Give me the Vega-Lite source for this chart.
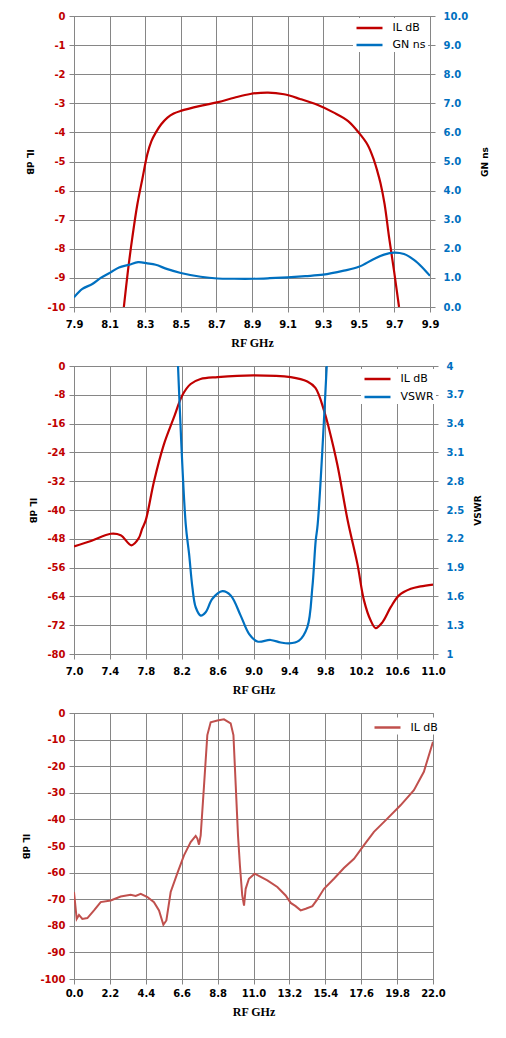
{
  "$schema": "https://vega.github.io/schema/vega-lite/v6.json",
  "padding": {"left": 19, "top": 10, "right": 0, "bottom": 0},
  "background": "white",
  "spacing": 59,
  "bounds": "flush",
  "resolve": {"scale": {"color": "independent"}, "legend": {"color": "independent"}},
  "config": {
    "font": "DejaVu Sans",
    "view": {"stroke": "#868686"},
    "axis": {
      "gridColor": "#868686", "gridOpacity": 1, "gridWidth": 1,
      "domainColor": "#868686", "domainWidth": 1,
      "tickColor": "#868686", "tickSize": 5, "tickWidth": 1,
      "labelFont": "DejaVu Sans", "labelFontSize": 10, "labelFontWeight": "bold",
      "labelFlush": false, "labelOverlap": false,
      "titleColor": "#000000", "titleFont": "DejaVu Sans", "titleFontWeight": "bold", "titleFontSize": 9
    },
    "axisX": {
      "labelColor": "#000000", "labelPadding": 7,
      "titleFont": "Liberation Serif", "titleFontSize": 12, "titlePadding": 8
    },
    "legend": {
      "orient": "none", "fillColor": "white", "padding": 2,
      "labelFont": "DejaVu Sans", "labelFontSize": 11, "labelColor": "#000000",
      "symbolType": "M-2,0H2", "symbolSize": 169, "symbolStrokeWidth": 2.5,
      "symbolOffset": 6.5, "labelOffset": 15, "rowPadding": 4
    }
  },
  "vconcat": [
    {
      "width": 356,
      "height": 291,
      "data": {"values": [
        {"s": "IL dB", "f": 8.18, "v": -10},
        {"s": "IL dB", "f": 8.203, "v": -8.76},
        {"s": "IL dB", "f": 8.228, "v": -7.6},
        {"s": "IL dB", "f": 8.256, "v": -6.47},
        {"s": "IL dB", "f": 8.284, "v": -5.6},
        {"s": "IL dB", "f": 8.312, "v": -4.75},
        {"s": "IL dB", "f": 8.335, "v": -4.3},
        {"s": "IL dB", "f": 8.36, "v": -4.0},
        {"s": "IL dB", "f": 8.39, "v": -3.72},
        {"s": "IL dB", "f": 8.425, "v": -3.49},
        {"s": "IL dB", "f": 8.46, "v": -3.35},
        {"s": "IL dB", "f": 8.5, "v": -3.26},
        {"s": "IL dB", "f": 8.61, "v": -3.09},
        {"s": "IL dB", "f": 8.71, "v": -2.96},
        {"s": "IL dB", "f": 8.8, "v": -2.81},
        {"s": "IL dB", "f": 8.89, "v": -2.68},
        {"s": "IL dB", "f": 8.99, "v": -2.63},
        {"s": "IL dB", "f": 9.08, "v": -2.69},
        {"s": "IL dB", "f": 9.17, "v": -2.85},
        {"s": "IL dB", "f": 9.27, "v": -3.06},
        {"s": "IL dB", "f": 9.36, "v": -3.32},
        {"s": "IL dB", "f": 9.44, "v": -3.61},
        {"s": "IL dB", "f": 9.5, "v": -4.01},
        {"s": "IL dB", "f": 9.55, "v": -4.43},
        {"s": "IL dB", "f": 9.585, "v": -4.95},
        {"s": "IL dB", "f": 9.604, "v": -5.33},
        {"s": "IL dB", "f": 9.622, "v": -5.75},
        {"s": "IL dB", "f": 9.645, "v": -6.47},
        {"s": "IL dB", "f": 9.67, "v": -7.6},
        {"s": "IL dB", "f": 9.698, "v": -8.76},
        {"s": "IL dB", "f": 9.726, "v": -10},
        {"s": "GN ns", "f": 7.9, "v": 0.33},
        {"s": "GN ns", "f": 7.947, "v": 0.62},
        {"s": "GN ns", "f": 8.003, "v": 0.79},
        {"s": "GN ns", "f": 8.05, "v": 1.0},
        {"s": "GN ns", "f": 8.106, "v": 1.19},
        {"s": "GN ns", "f": 8.153, "v": 1.36},
        {"s": "GN ns", "f": 8.209, "v": 1.45},
        {"s": "GN ns", "f": 8.26, "v": 1.54},
        {"s": "GN ns", "f": 8.312, "v": 1.5},
        {"s": "GN ns", "f": 8.359, "v": 1.45},
        {"s": "GN ns", "f": 8.425, "v": 1.3},
        {"s": "GN ns", "f": 8.5, "v": 1.17},
        {"s": "GN ns", "f": 8.612, "v": 1.04},
        {"s": "GN ns", "f": 8.706, "v": 0.98},
        {"s": "GN ns", "f": 8.8, "v": 0.97},
        {"s": "GN ns", "f": 8.906, "v": 0.97},
        {"s": "GN ns", "f": 9.0, "v": 0.99},
        {"s": "GN ns", "f": 9.1, "v": 1.02},
        {"s": "GN ns", "f": 9.2, "v": 1.06},
        {"s": "GN ns", "f": 9.3, "v": 1.11},
        {"s": "GN ns", "f": 9.416, "v": 1.25},
        {"s": "GN ns", "f": 9.5, "v": 1.38},
        {"s": "GN ns", "f": 9.585, "v": 1.65},
        {"s": "GN ns", "f": 9.642, "v": 1.8},
        {"s": "GN ns", "f": 9.698, "v": 1.87},
        {"s": "GN ns", "f": 9.754, "v": 1.82},
        {"s": "GN ns", "f": 9.81, "v": 1.62},
        {"s": "GN ns", "f": 9.857, "v": 1.36},
        {"s": "GN ns", "f": 9.9, "v": 1.07}
      ]},
      "encoding": {
        "x": {
          "field": "f", "type": "quantitative",
          "scale": {"domain": [7.9, 9.9], "nice": false, "zero": false},
          "axis": {"values": [7.9, 8.1, 8.3, 8.5, 8.7, 8.9, 9.1, 9.3, 9.5, 9.7, 9.9], "format": ".1f", "title": "RF GHz", "grid": true}
        },
        "color": {
          "field": "s", "type": "nominal",
          "scale": {"domain": ["IL dB", "GN ns"], "range": ["#C00000", "#0070C0"]},
          "legend": {"title": null, "legendX": 279, "legendY": 2}
        }
      },
      "layer": [
        {
          "transform": [{"filter": "datum.s == 'IL dB'"}],
          "mark": {"type": "line", "strokeWidth": 2.2, "interpolate": "catmull-rom", "clip": true},
          "encoding": {
            "y": {
              "field": "v", "type": "quantitative",
              "scale": {"domain": [-10, 0], "nice": false},
              "axis": {"values": [-10, -9, -8, -7, -6, -5, -4, -3, -2, -1, 0], "labelExpr": "toString(datum.value)", "labelColor": "#C00000", "labelPadding": 4, "grid": true, "title": "IL dB", "titleAngle": 90, "titleBaseline": "middle", "titleX": -44.5}
            }
          }
        },
        {
          "transform": [{"filter": "datum.s == 'GN ns'"}],
          "mark": {"type": "line", "strokeWidth": 2.2, "interpolate": "catmull-rom", "clip": true},
          "encoding": {
            "y": {
              "field": "v", "type": "quantitative",
              "scale": {"domain": [0, 10], "nice": false},
              "axis": {"orient": "right", "values": [0, 1, 2, 3, 4, 5, 6, 7, 8, 9, 10], "format": ".1f", "labelColor": "#0070C0", "labelPadding": 8, "grid": false, "title": "GN ns", "titleAngle": 270, "titleBaseline": "middle", "titleX": 54}
            }
          }
        }
      ],
      "resolve": {"scale": {"y": "independent"}}
    },
    {
      "width": 359,
      "height": 288,
      "data": {"values": [
        {"s": "IL dB", "f": 7.0, "v": -50.1},
        {"s": "IL dB", "f": 7.19, "v": -48.6},
        {"s": "IL dB", "f": 7.41, "v": -46.6},
        {"s": "IL dB", "f": 7.52, "v": -47.0},
        {"s": "IL dB", "f": 7.64, "v": -49.8},
        {"s": "IL dB", "f": 7.72, "v": -47.9},
        {"s": "IL dB", "f": 7.76, "v": -45.2},
        {"s": "IL dB", "f": 7.8, "v": -42.8},
        {"s": "IL dB", "f": 7.89, "v": -32.2},
        {"s": "IL dB", "f": 8.0, "v": -21.9},
        {"s": "IL dB", "f": 8.11, "v": -14.5},
        {"s": "IL dB", "f": 8.21, "v": -8.0},
        {"s": "IL dB", "f": 8.3, "v": -5.0},
        {"s": "IL dB", "f": 8.41, "v": -3.6},
        {"s": "IL dB", "f": 8.6, "v": -3.07},
        {"s": "IL dB", "f": 9.0, "v": -2.6},
        {"s": "IL dB", "f": 9.415, "v": -3.07},
        {"s": "IL dB", "f": 9.6, "v": -4.3},
        {"s": "IL dB", "f": 9.69, "v": -6.1},
        {"s": "IL dB", "f": 9.79, "v": -12.7},
        {"s": "IL dB", "f": 9.84, "v": -17.3},
        {"s": "IL dB", "f": 9.935, "v": -27.5},
        {"s": "IL dB", "f": 10.05, "v": -43.0},
        {"s": "IL dB", "f": 10.157, "v": -54.9},
        {"s": "IL dB", "f": 10.231, "v": -65.1},
        {"s": "IL dB", "f": 10.306, "v": -70.7},
        {"s": "IL dB", "f": 10.361, "v": -72.8},
        {"s": "IL dB", "f": 10.436, "v": -71.2},
        {"s": "IL dB", "f": 10.529, "v": -67.0},
        {"s": "IL dB", "f": 10.621, "v": -63.7},
        {"s": "IL dB", "f": 10.752, "v": -61.9},
        {"s": "IL dB", "f": 10.863, "v": -61.2},
        {"s": "IL dB", "f": 11.0, "v": -60.7},
        {"s": "VSWR", "f": 8.159, "v": 4.0},
        {"s": "VSWR", "f": 8.245, "v": 2.35},
        {"s": "VSWR", "f": 8.282, "v": 2.045},
        {"s": "VSWR", "f": 8.319, "v": 1.696},
        {"s": "VSWR", "f": 8.356, "v": 1.487},
        {"s": "VSWR", "f": 8.412, "v": 1.4},
        {"s": "VSWR", "f": 8.467, "v": 1.435},
        {"s": "VSWR", "f": 8.542, "v": 1.575},
        {"s": "VSWR", "f": 8.653, "v": 1.654},
        {"s": "VSWR", "f": 8.746, "v": 1.61},
        {"s": "VSWR", "f": 8.857, "v": 1.4},
        {"s": "VSWR", "f": 8.95, "v": 1.21},
        {"s": "VSWR", "f": 9.043, "v": 1.13},
        {"s": "VSWR", "f": 9.19, "v": 1.146},
        {"s": "VSWR", "f": 9.303, "v": 1.12},
        {"s": "VSWR", "f": 9.396, "v": 1.11},
        {"s": "VSWR", "f": 9.507, "v": 1.139},
        {"s": "VSWR", "f": 9.6, "v": 1.28},
        {"s": "VSWR", "f": 9.656, "v": 1.696},
        {"s": "VSWR", "f": 9.693, "v": 2.18},
        {"s": "VSWR", "f": 9.715, "v": 2.35},
        {"s": "VSWR", "f": 9.816, "v": 4.0}
      ]},
      "encoding": {
        "x": {
          "field": "f", "type": "quantitative",
          "scale": {"domain": [7.0, 11.0], "nice": false, "zero": false},
          "axis": {"values": [7.0, 7.4, 7.8, 8.2, 8.6, 9.0, 9.4, 9.8, 10.2, 10.6, 11.0], "format": ".1f", "title": "RF GHz", "grid": true}
        },
        "color": {
          "field": "s", "type": "nominal",
          "scale": {"domain": ["IL dB", "VSWR"], "range": ["#C00000", "#0070C0"]},
          "legend": {"title": null, "legendX": 287, "legendY": 3, "rowPadding": 5}
        }
      },
      "layer": [
        {
          "transform": [{"filter": "datum.s == 'IL dB'"}],
          "mark": {"type": "line", "strokeWidth": 2.2, "interpolate": "catmull-rom", "clip": true},
          "encoding": {
            "y": {
              "field": "v", "type": "quantitative",
              "scale": {"domain": [-80, 0], "nice": false},
              "axis": {"values": [-80, -72, -64, -56, -48, -40, -32, -24, -16, -8, 0], "labelExpr": "toString(datum.value)", "labelColor": "#C00000", "labelPadding": 4, "grid": true, "title": "IL dB", "titleAngle": 90, "titleBaseline": "middle", "titleX": -41.5}
            }
          }
        },
        {
          "transform": [{"filter": "datum.s == 'VSWR'"}],
          "mark": {"type": "line", "strokeWidth": 2.2, "interpolate": "catmull-rom", "clip": true},
          "encoding": {
            "y": {
              "field": "v", "type": "quantitative",
              "scale": {"domain": [1, 4], "nice": false, "zero": false},
              "axis": {"orient": "right", "values": [1, 1.3, 1.6, 1.9, 2.2, 2.5, 2.8, 3.1, 3.4, 3.7, 4], "format": ".1~f", "labelColor": "#0070C0", "labelPadding": 8, "grid": false, "title": "VSWR", "titleAngle": 270, "titleBaseline": "middle", "titleX": 44}
            }
          }
        }
      ],
      "resolve": {"scale": {"y": "independent"}}
    },
    {
      "width": 359,
      "height": 266,
      "data": {"values": [
        {"s": "IL dB", "f": 0, "v": -67.3},
        {"s": "IL dB", "f": 0.165, "v": -77.4},
        {"s": "IL dB", "f": 0.306, "v": -75.9},
        {"s": "IL dB", "f": 0.51, "v": -77.4},
        {"s": "IL dB", "f": 0.82, "v": -77.1},
        {"s": "IL dB", "f": 1.226, "v": -74.2},
        {"s": "IL dB", "f": 1.635, "v": -71.1},
        {"s": "IL dB", "f": 2.25, "v": -70.5},
        {"s": "IL dB", "f": 2.86, "v": -69.0},
        {"s": "IL dB", "f": 3.474, "v": -68.3},
        {"s": "IL dB", "f": 3.78, "v": -68.8},
        {"s": "IL dB", "f": 4.09, "v": -68.0},
        {"s": "IL dB", "f": 4.5, "v": -69.2},
        {"s": "IL dB", "f": 4.9, "v": -71.1},
        {"s": "IL dB", "f": 5.21, "v": -74.2},
        {"s": "IL dB", "f": 5.477, "v": -79.6},
        {"s": "IL dB", "f": 5.66, "v": -78.0},
        {"s": "IL dB", "f": 5.925, "v": -67.3},
        {"s": "IL dB", "f": 6.33, "v": -60.3},
        {"s": "IL dB", "f": 6.74, "v": -53.5},
        {"s": "IL dB", "f": 7.15, "v": -48.5},
        {"s": "IL dB", "f": 7.457, "v": -46.2},
        {"s": "IL dB", "f": 7.56, "v": -47.2},
        {"s": "IL dB", "f": 7.66, "v": -49.5},
        {"s": "IL dB", "f": 7.764, "v": -46.0},
        {"s": "IL dB", "f": 7.97, "v": -27.1},
        {"s": "IL dB", "f": 8.17, "v": -8.3},
        {"s": "IL dB", "f": 8.376, "v": -3.5},
        {"s": "IL dB", "f": 8.785, "v": -2.8},
        {"s": "IL dB", "f": 9.19, "v": -2.4},
        {"s": "IL dB", "f": 9.6, "v": -3.9},
        {"s": "IL dB", "f": 9.77, "v": -8.3},
        {"s": "IL dB", "f": 9.91, "v": -27.1},
        {"s": "IL dB", "f": 10.05, "v": -46.0},
        {"s": "IL dB", "f": 10.17, "v": -57.5},
        {"s": "IL dB", "f": 10.31, "v": -68.6},
        {"s": "IL dB", "f": 10.42, "v": -72.4},
        {"s": "IL dB", "f": 10.52, "v": -66.1},
        {"s": "IL dB", "f": 10.72, "v": -62.3},
        {"s": "IL dB", "f": 11.07, "v": -60.4},
        {"s": "IL dB", "f": 11.85, "v": -62.9},
        {"s": "IL dB", "f": 12.46, "v": -65.4},
        {"s": "IL dB", "f": 12.97, "v": -68.6},
        {"s": "IL dB", "f": 13.28, "v": -71.4},
        {"s": "IL dB", "f": 13.58, "v": -72.6},
        {"s": "IL dB", "f": 13.89, "v": -74.2},
        {"s": "IL dB", "f": 14.2, "v": -73.6},
        {"s": "IL dB", "f": 14.61, "v": -72.6},
        {"s": "IL dB", "f": 14.91, "v": -70.1},
        {"s": "IL dB", "f": 15.32, "v": -66.1},
        {"s": "IL dB", "f": 15.93, "v": -62.3},
        {"s": "IL dB", "f": 16.54, "v": -58.3},
        {"s": "IL dB", "f": 17.16, "v": -54.8},
        {"s": "IL dB", "f": 17.77, "v": -49.7},
        {"s": "IL dB", "f": 18.38, "v": -44.7},
        {"s": "IL dB", "f": 19.2, "v": -39.7},
        {"s": "IL dB", "f": 20.01, "v": -34.7},
        {"s": "IL dB", "f": 20.83, "v": -29.0},
        {"s": "IL dB", "f": 21.44, "v": -22.1},
        {"s": "IL dB", "f": 22.0, "v": -10.8}
      ]},
      "mark": {"type": "line", "strokeWidth": 2, "clip": true},
      "encoding": {
        "x": {
          "field": "f", "type": "quantitative",
          "scale": {"domain": [0, 22], "nice": false},
          "axis": {"values": [0, 2.2, 4.4, 6.6, 8.8, 11.0, 13.2, 15.4, 17.6, 19.8, 22.0], "format": ".1f", "title": "RF GHz", "grid": true, "labelPadding": 4}
        },
        "y": {
          "field": "v", "type": "quantitative",
          "scale": {"domain": [-100, 0], "nice": false},
          "axis": {"values": [-100, -90, -80, -70, -60, -50, -40, -30, -20, -10, 0], "labelExpr": "toString(datum.value)", "labelColor": "#C00000", "labelPadding": 4, "grid": true, "title": "IL dB", "titleAngle": 90, "titleBaseline": "middle", "titleX": -49}
        },
        "color": {
          "field": "s", "type": "nominal",
          "scale": {"domain": ["IL dB"], "range": ["#C0504D"]},
          "legend": {"title": null, "legendX": 297, "legendY": 4.5}
        }
      }
    }
  ]
}
